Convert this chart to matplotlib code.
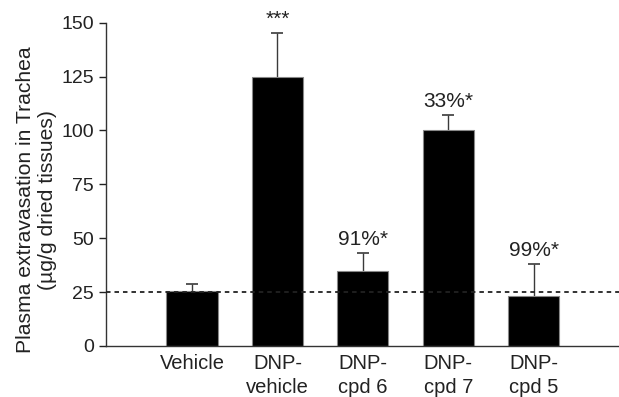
import matplotlib
matplotlib.use("Agg")
import matplotlib.pyplot as plt
import numpy as np

plt.rcParams['font.family'] = ['Liberation Sans', 'DejaVu Sans']

categories = ["Vehicle", "DNP-\nvehicle", "DNP-\ncpd 6", "DNP-\ncpd 7", "DNP-\ncpd 5"]
values = [25.5, 125, 35, 100, 23]
errors = [3.3, 20, 8, 7, 15]
annotations = ["", "***", "91%*", "33%*", "99%*"]
baseline = 25
yticks = [0, 25, 50, 75, 100, 125, 150]

fig = plt.figure(figsize=(6.19, 3.97), dpi=100)
ax = fig.add_axes([0.171, 0.1285, 0.829, 0.8145])

x = np.arange(len(categories))
ax.bar(x, values, width=0.6, color='black', edgecolor='#888888', linewidth=0.8, zorder=2)
eb = ax.errorbar(x, values, yerr=[np.zeros(len(errors)), errors], fmt='none',
                 ecolor='#3a3a3a', elinewidth=1.0, capsize=4.5, capthick=1.2, zorder=1)
caps = eb[1]
if len(caps) == 2:
    caps[0].set_visible(False)
ax.axhline(baseline, color='#222222', linestyle=(0, (2.5, 2.2)), linewidth=1.3, zorder=3)

for xi, v, e, t in zip(x, values, errors, annotations):
    if t:
        ax.annotate(t, (xi, v + e), xytext=(0, 3), textcoords='offset points',
                    ha='center', va='bottom', fontsize=15, color='#222222',
                    annotation_clip=False)

ax.set_xlim(-1.01, 5.0)
ax.set_ylim(0, 150)
ax.set_yticks(yticks)
ax.set_xticks(x)
ax.set_xticklabels(categories, fontsize=14.5, color='#222222', linespacing=1.28)
ax.tick_params(axis='x', length=0, pad=6)
ax.tick_params(axis='y', labelsize=14, colors='#222222', length=5, width=1, direction='out')
for s in ['top', 'right']:
    ax.spines[s].set_visible(False)
for s in ['left', 'bottom']:
    ax.spines[s].set_color('#333333')
    ax.spines[s].set_linewidth(1.0)

ax.set_ylabel("Plasma extravasation in Trachea\n(\u00b5g/g dried tissues)", fontsize=15.2,
              color='#222222', linespacing=1.2)
ax.yaxis.set_label_coords(-0.095, 0.452)

fig.savefig("out.png", dpi=100)
